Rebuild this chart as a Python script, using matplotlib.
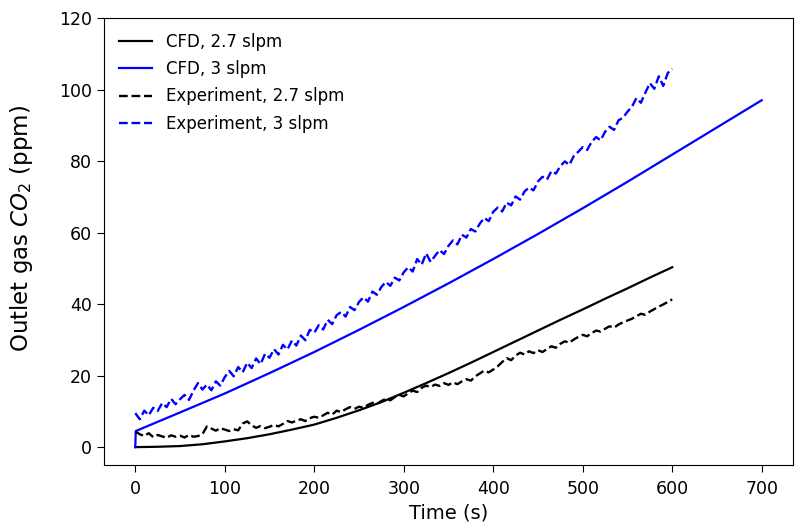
import numpy as np
import matplotlib
matplotlib.use("Agg")
import matplotlib.pyplot as plt

# CFD curves
t_cfd27 = [0, 25, 50, 75, 100, 125, 150, 175, 200, 225, 250, 275, 300, 325,
           350, 375, 400, 425, 450, 475, 500, 525, 550, 575, 600]
cfd27 = [0.0, 0.1, 0.3, 0.8, 1.6, 2.5, 3.6, 4.9, 6.3, 8.2, 10.3, 12.6, 15.2,
         17.9, 20.7, 23.6, 26.6, 29.6, 32.6, 35.6, 38.5, 41.5, 44.4, 47.4, 50.3]

t_cfd3 = [0, 0.5, 50, 100, 150, 200, 250, 300, 350, 400, 450, 500, 550, 600, 650, 700]
cfd3 = [0.0, 4.5, 9.7, 15.0, 20.7, 26.6, 32.8, 39.2, 45.8, 52.6, 59.6, 66.8,
        74.2, 81.8, 89.4, 97.0]

# experiment, sampled every 5 s
t_exp = np.arange(0, 601, 5)
exp27 = [4.4, 3.6, 3.1, 3.9, 2.8, 3.4, 3.0, 2.6, 3.3, 2.9, 3.2,
         2.7, 3.4, 2.9, 3.1, 3.6, 5.8, 5.2, 4.6, 5.3, 4.9,
         4.5, 5.0, 4.7, 6.6, 7.2, 6.1, 5.4, 5.9, 5.3, 5.7,
         6.2, 5.8, 6.5, 7.3, 6.9, 7.4, 7.8, 7.3, 8.1, 8.5,
         8.2, 8.9, 9.6, 9.1, 10.2, 9.8, 10.6, 11.2, 10.7, 11.3,
         11.0, 11.8, 12.4, 12.1, 12.9, 13.5, 13.1, 14.0, 14.6, 14.2,
         15.1, 15.8, 15.4, 16.6, 17.2, 16.8, 17.5, 17.1, 17.9, 17.4,
         18.1, 17.6, 18.4, 19.0, 18.6, 19.8, 20.6, 21.4, 20.9, 21.7,
         22.6, 23.8, 24.9, 24.3, 25.6, 26.4, 25.9, 26.8, 26.3, 27.1,
         26.6, 27.4, 28.2, 27.8, 28.9, 29.6, 29.2, 30.1, 30.8, 31.4,
         31.0, 31.9, 32.6, 32.3, 33.1, 33.8, 33.4, 34.3, 34.9, 35.4,
         35.9, 36.6, 37.3, 37.0, 37.9, 38.6, 39.3, 39.9, 40.6, 41.3]
exp3 = [9.5, 7.8, 10.2, 8.9, 11.0, 10.1, 12.3, 11.2, 13.5, 12.0, 13.4,
        14.6, 13.2, 15.8, 17.9, 16.1, 17.5, 15.9, 18.4, 17.2, 19.6,
        21.3, 19.8, 22.4, 20.9, 23.6, 22.1, 24.8, 23.2, 26.1, 25.0,
        27.4, 25.9, 28.6, 27.3, 29.8, 28.4, 31.2, 29.9, 32.8, 32.0,
        34.1, 32.9, 35.6, 34.4, 36.9, 37.8, 36.5, 39.2, 38.3, 40.6,
        41.9, 40.7, 43.5, 42.6, 44.8, 46.2, 45.1, 47.4, 46.6, 48.9,
        50.3, 49.1, 52.6, 51.0, 54.2, 51.8, 53.5, 55.1, 54.0, 56.3,
        57.8, 56.7, 59.4, 58.6, 61.0, 60.3, 62.5, 64.1, 63.2, 65.8,
        67.0, 65.9, 68.4, 67.6, 70.1, 69.2, 71.5, 72.6, 71.8, 74.3,
        75.6, 74.8, 77.2, 76.5, 78.6, 79.9, 78.9, 81.4, 82.6, 83.9,
        83.1, 85.4, 86.7, 85.8, 88.2, 89.6, 88.7, 91.4, 92.1, 93.8,
        95.2, 97.6, 96.3, 99.1, 101.8, 100.2, 103.7, 101.0, 104.6, 105.8]

fig = plt.figure(figsize=(7.95, 5.28), dpi=100)
ax = fig.add_axes([0.1308, 0.1193, 0.8667, 0.8466])

ax.plot(t_cfd27, cfd27, color='k', lw=1.6, label='CFD, 2.7 slpm')
ax.plot(t_cfd3, cfd3, color='b', lw=1.6, label='CFD, 3 slpm')
ax.plot(t_exp, exp27, color='k', lw=1.7, ls='--', label='Experiment, 2.7 slpm')
ax.plot(t_exp, exp3, color='b', lw=1.7, ls='--', label='Experiment, 3 slpm')

ax.set_xlim(-35, 735)
ax.set_ylim(-5, 120)
ax.set_xticks([0, 100, 200, 300, 400, 500, 600, 700])
ax.set_yticks([0, 20, 40, 60, 80, 100, 120])
ax.tick_params(labelsize=12.5, length=5)
ax.tick_params(axis='x', pad=6)
ax.set_xlabel('Time (s)', fontsize=14)
ax.set_ylabel('Outlet gas $CO_2$ (ppm)', fontsize=16.5)
ax.yaxis.set_label_coords(-0.1, 0.53)
ax.legend(loc='upper left', frameon=False, fontsize=12, labelspacing=0.55)

fig.savefig('out.png', dpi=100)
